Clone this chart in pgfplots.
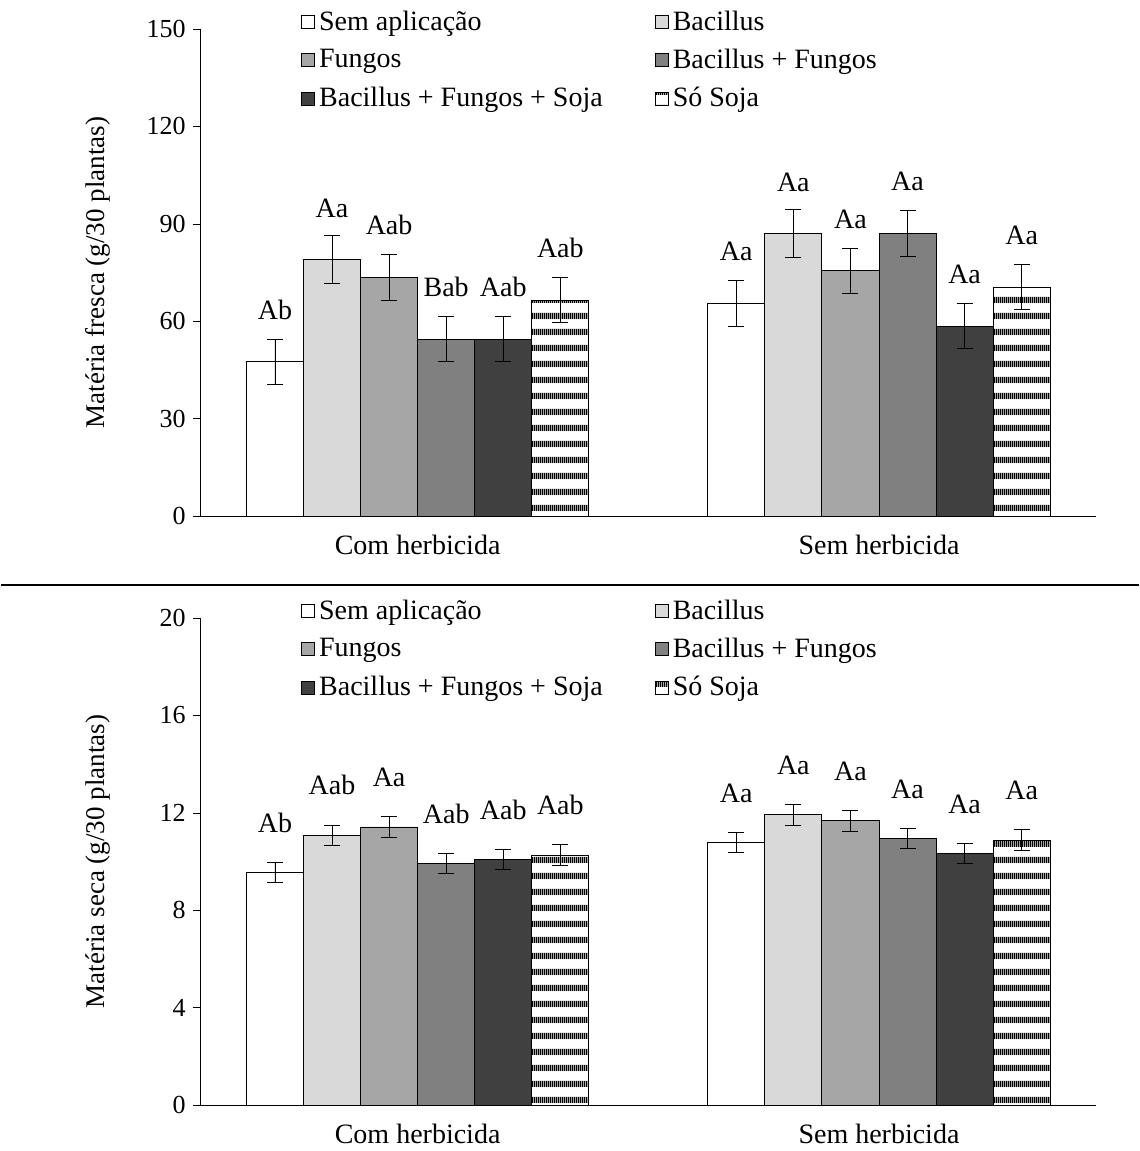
\documentclass[border=0pt]{standalone}
\usepackage{pgfplots}
\pgfplotsset{compat=1.18}
\usepackage{pgfplotstable}
\usepackage{fontspec}
\setmainfont{Liberation Serif}
\usetikzlibrary{patterns.meta}
\pgfdeclarepattern{name=hstripes, type=uncolored, bottom left={\pgfpoint{0pt}{0pt}}, top right={\pgfpoint{1pt}{8pt}}, tile size={\pgfpoint{1pt}{8pt}}, code={\pgfpathrectangle{\pgfpoint{0pt}{0pt}}{\pgfpoint{1pt}{3.2pt}}\pgfusepath{fill}}}
\definecolor{c1}{HTML}{FFFFFF}
\definecolor{c2}{HTML}{D9D9D9}
\definecolor{c3}{HTML}{A6A6A6}
\definecolor{c4}{HTML}{808080}
\definecolor{c5}{HTML}{404040}
% fresh mass
\pgfplotstableread{
x y e l
-0.3093 47.5 7 Ab
0.6907 65.5 7 Aa
}\fa
\pgfplotstableread{
x y e l
-0.1856 79 7.3 Aa
0.8144 87 7.3 Aa
}\fb
\pgfplotstableread{
x y e l
-0.0619 73.5 7 Aab
0.9381 75.5 7 Aa
}\fc
\pgfplotstableread{
x y e l
0.0619 54.5 7 Bab
1.0619 87 7 Aa
}\fd
\pgfplotstableread{
x y e l
0.1856 54.5 7 Aab
1.1856 58.5 7 Aa
}\fe
\pgfplotstableread{
x y e l
0.3093 66.5 7 Aab
1.3093 70.5 7 Aa
}\ff
% dry mass
\pgfplotstableread{
x y e l
-0.3093 9.55 0.42 Ab
0.6907 10.78 0.42 Aa
}\da
\pgfplotstableread{
x y e l
-0.1856 11.08 0.42 Aab
0.8144 11.92 0.42 Aa
}\db
\pgfplotstableread{
x y e l
-0.0619 11.42 0.42 Aa
0.9381 11.67 0.42 Aa
}\dc
\pgfplotstableread{
x y e l
0.0619 9.92 0.42 Aab
1.0619 10.95 0.42 Aa
}\dd
\pgfplotstableread{
x y e l
0.1856 10.08 0.42 Aab
1.1856 10.33 0.42 Aa
}\de
\pgfplotstableread{
x y e l
0.3093 10.27 0.42 Aab
1.3093 10.88 0.42 Aa
}\df
\pgfplotsset{
 myax/.style={
  width=447.5pt, height=243.5pt, scale only axis,
  xmin=-0.47, xmax=1.47,
  axis x line=bottom, axis y line=left, axis line style={-, black},
  xtick={0,1}, xticklabels={Com herbicida, Sem herbicida},
  x tick style={draw=none},
  tick align=outside, ytick style={black}, major tick length=4pt,
  tick label style={font=\fontsize{13}{15}\selectfont},
  xticklabel style={font=\fontsize{14}{16}\selectfont, yshift=-2pt},
  label style={font=\fontsize{13.5}{15}\selectfont},
  /pgf/number format/assume math mode=true,
  ylabel style={at={(axis description cs:-0.115,0.5)}, anchor=center},
  ybar, bar width=0.1237, bar shift=0pt,
  legend columns=2,
  legend style={draw=none, fill=none, at={(0.105,1.055)}, anchor=north west,
     font=\fontsize{14}{16}\selectfont, row sep=4pt,
     /tikz/every even column/.append style={column sep=24pt}},
  legend cell align=left,
  legend image code/.code={\draw[##1] (0pt,-3.3pt) rectangle (6.6pt,3.3pt);},
 },
 bs/.style={draw=black, fill=#1, error bars/.cd, y dir=both, y explicit, error bar style={black}, error mark options={black, rotate=90, mark size=4pt}},
 lab/.style={forget plot, draw=none, mark=none, nodes near coords, point meta=explicit symbolic,
   every node near coord/.append style={font=\fontsize{14}{16}\selectfont, anchor=base}},
}
\newcommand\series[3]{%
 \addplot[#3,bs=#2] table[x=x,y=y,y error=e]{#1};}
\newcommand\labels[2]{%
 \addplot[ybar=0pt, lab, nodes near coords style={yshift=#2}] table[x=x,y expr=\thisrow{y}+\thisrow{e},meta=l]{#1};}
\begin{document}
\begin{tikzpicture}
\path (0,0) rectangle (569pt,-575.5pt);
\draw[black, line width=0.8pt] (0,-292.5pt) -- (569pt,-292.5pt);
\begin{axis}[myax, at={(100pt,-258pt)}, anchor=south west, ymin=0, ymax=150, ytick={0,30,...,150}, ylabel={Matéria fresca (g/30 plantas)}]
\series{\fa}{c1}{}
\series{\fb}{c2}{}
\series{\fc}{c3}{}
\series{\fd}{c4}{}
\series{\fe}{c5}{}
\series{\ff}{white}{postaction={pattern=hstripes}}
\legend{Sem aplicação, Bacillus, Fungos, Bacillus + Fungos, Bacillus + Fungos + Soja, Só Soja}
\labels{\fa}{10pt}\labels{\fb}{9pt}\labels{\fc}{10pt}\labels{\fd}{10pt}\labels{\fe}{10pt}\labels{\ff}{10pt}
\end{axis}
\begin{axis}[myax, at={(100pt,-552.5pt)}, anchor=south west, ymin=0, ymax=20, ytick={0,4,...,20}, ylabel={Matéria seca (g/30 plantas)}]
\series{\da}{c1}{}
\series{\db}{c2}{}
\series{\dc}{c3}{}
\series{\dd}{c4}{}
\series{\de}{c5}{}
\series{\df}{white}{postaction={pattern=hstripes}}
\legend{Sem aplicação, Bacillus, Fungos, Bacillus + Fungos, Bacillus + Fungos + Soja, Só Soja}
\labels{\da}{15pt}\labels{\db}{15pt}\labels{\dc}{15pt}\labels{\dd}{15pt}\labels{\de}{15pt}\labels{\df}{15pt}
\end{axis}
\end{tikzpicture}
\end{document}
